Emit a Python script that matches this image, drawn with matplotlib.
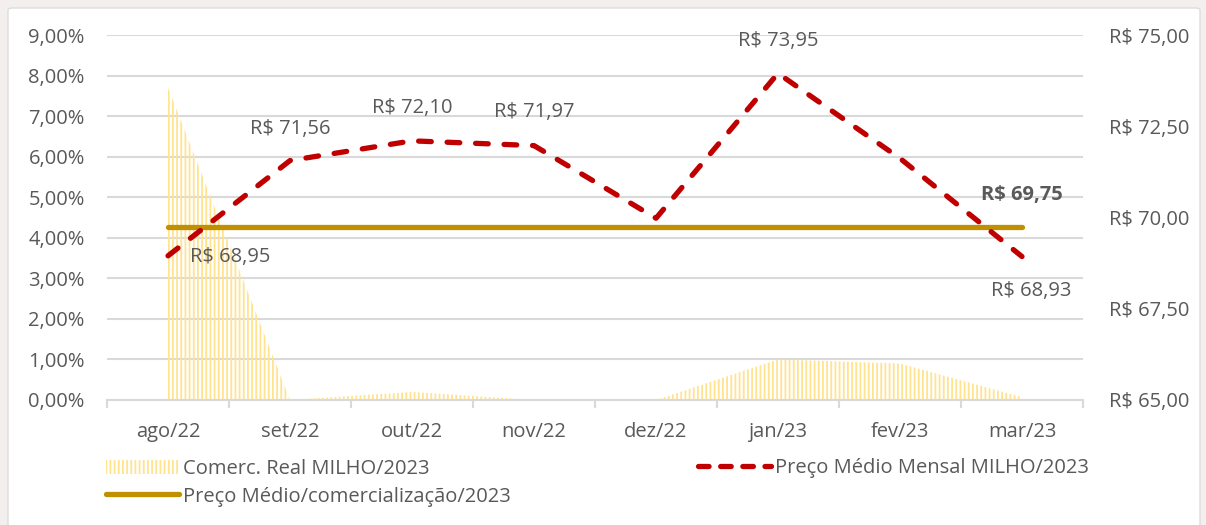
import matplotlib
matplotlib.use("Agg")
import matplotlib.pyplot as plt
import numpy as np
from matplotlib.patches import FancyBboxPatch, Patch
from matplotlib.lines import Line2D
from matplotlib.ticker import FixedLocator

plt.rcParams["font.family"] = ["Open Sans", "DejaVu Sans"]
plt.rcParams["hatch.linewidth"] = 1.3

MONTHS = ["ago/22", "set/22", "out/22", "nov/22", "dez/22", "jan/23", "fev/23", "mar/23"]
COMERC_PCT = [7.7, 0.0, 0.2, 0.0, 0.0, 1.0, 0.9, 0.07]
PRECO_MENSAL = [68.95, 71.56, 72.10, 71.97, 69.98, 73.95, 71.62, 68.93]
PRECO_MEDIO = 69.75
LABELED = {0: "R$ 68,95", 1: "R$ 71,56", 2: "R$ 72,10", 3: "R$ 71,97", 5: "R$ 73,95", 7: "R$ 68,93"}

TEXT = "#595959"
GRID = "#d9d9d9"
YELLOW = "#ffe38f"
RED = "#c00000"
GOLD = "#bf9000"
FS = 14.5

fig = plt.figure(figsize=(12.06, 5.25), dpi=100)
fig.patch.set_facecolor("#f3efef")
box = FancyBboxPatch((8 / 1206, -0.02), 1192 / 1206, 1 - 8 / 525 + 0.02,
                     boxstyle="round,pad=0,rounding_size=0.004",
                     transform=fig.transFigure, facecolor="white",
                     edgecolor="#e0dcdc", linewidth=1, zorder=-10)
fig.patches.append(box)

ax = fig.add_axes([107 / 1206, 125 / 525, 976 / 1206, 365 / 525])
ax.set_facecolor("none")
x = np.arange(len(MONTHS))

ax.fill_between(x, 0, COMERC_PCT, facecolor="none", edgecolor=YELLOW, hatch="||||", linewidth=0)
ax.set_xlim(-0.5, len(MONTHS) - 0.5)
ax.set_ylim(0, 9)
ax.set_yticks(np.arange(0, 10, 1))
ax.set_yticklabels([f"{v:.2f}%".replace(".", ",") for v in np.arange(0, 10, 1)])
ax.grid(axis="y", color=GRID, linewidth=1.5)
ax.set_axisbelow(True)
ax.set_xticks(x)
ax.set_xticklabels(MONTHS)
ax.xaxis.set_minor_locator(FixedLocator(np.arange(-0.5, len(MONTHS), 1)))
ax.tick_params(axis="x", which="major", length=0, pad=16, labelsize=FS, labelcolor=TEXT)
ax.tick_params(axis="x", which="minor", length=6, width=1.5, color=GRID)
ax.tick_params(axis="y", length=0, pad=16, labelsize=FS, labelcolor=TEXT)
for s in ["top", "right", "left"]:
    ax.spines[s].set_visible(False)
ax.spines["bottom"].set_color(GRID)
ax.spines["bottom"].set_linewidth(1.5)

ax2 = ax.twinx()
ax2.set_ylim(65, 75)
ax2.set_yticks([65, 67.5, 70, 72.5, 75])
ax2.set_yticklabels([f"R$ {v:.2f}".replace(".", ",") for v in [65, 67.5, 70, 72.5, 75]])
ax2.tick_params(axis="y", length=0, pad=19, labelsize=FS, labelcolor=TEXT)
for s in ["top", "right", "left", "bottom"]:
    ax2.spines[s].set_visible(False)

ax2.plot(x[[0, -1]], [PRECO_MEDIO, PRECO_MEDIO], color=GOLD, linewidth=3.8, solid_capstyle="round")
ax2.plot(x, PRECO_MENSAL, color=RED, linewidth=3.8, linestyle=(0, (2.4, 3.0)),
         dash_capstyle="round", dash_joinstyle="round")

offsets = {0: (45, -1), 1: (0, 23), 2: (0, 24), 3: (0, 24), 5: (0, 23), 7: (7, -25)}
for i, lab in LABELED.items():
    ax2.annotate(lab, (x[i], PRECO_MENSAL[i]), xytext=offsets[i], textcoords="offset points",
                 ha="center", va="center", fontsize=FS, color=TEXT)
ax2.annotate("R$ 69,75", (x[-1], PRECO_MEDIO), xytext=(0, 23), textcoords="offset points",
             ha="center", va="center", fontsize=FS, color=TEXT, fontweight="bold")

leg_kw = dict(loc="center left", frameon=False, fontsize=FS, labelcolor=TEXT, handlelength=3.6,
              handletextpad=0.2, labelspacing=0.35, borderaxespad=0, borderpad=0)
leg1 = fig.legend(
    [Patch(facecolor="none", edgecolor=YELLOW, hatch="||||", linewidth=0),
     Line2D([], [], color=GOLD, linewidth=3.8, solid_capstyle="round")],
    ["Comerc. Real MILHO/2023", "Preço Médio/comercialização/2023"],
    bbox_to_anchor=(106 / 1206, 1 - 483 / 525), **leg_kw)
leg2 = fig.legend(
    [Line2D([], [], color=RED, linewidth=3.8, linestyle=(0, (2.0, 2.2)), dash_capstyle="round")],
    ["Preço Médio Mensal MILHO/2023"],
    bbox_to_anchor=(698 / 1206, 1 - 468 / 525), **leg_kw)

fig.savefig("out.png", dpi=100, facecolor=fig.get_facecolor())
